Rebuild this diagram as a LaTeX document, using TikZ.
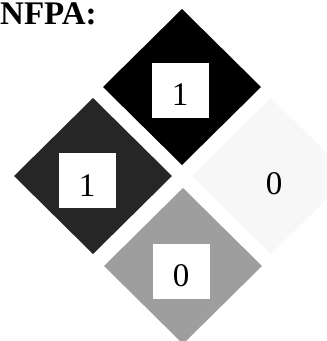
\documentclass[tikz,border=0pt]{standalone}
\usepackage{fontspec}
\setmainfont{Liberation Serif}
\usetikzlibrary{shapes.geometric}
\begin{document}
\begin{tikzpicture}[x=1pt,y=-1pt,
  dia/.style={shape=diamond,draw=none,inner sep=0pt,outer sep=0pt,minimum width=158pt,minimum height=156pt},
  numbox/.style={fill=white,draw=none,inner sep=0pt,minimum width=57pt,minimum height=55pt,text height=31pt,text depth=0pt,font=\fontsize{33}{33}\selectfont},
  numtext/.style={inner sep=0pt,font=\fontsize{33}{33}\selectfont}]
\useasboundingbox (0,0) rectangle (327,341);
\node[anchor=north west,inner sep=0pt,font=\fontsize{33}{33}\selectfont\bfseries] (title) at (0,3) {NFPA:};
\node[dia,fill=black] (health0) at (182,87) {};
\node[dia,fill=black!85] (flam) at (93,176) {};
\node[dia,fill=black!3] (react) at (271,176) {};
\node[dia,fill=black!38] (spec) at (183,266) {};
\node[numbox] (topnum) at (180,90) {1};
\node[numbox] (leftnum) at (87,180.5) {1};
\node[numbox] (botnum) at (181,271) {0};
\node[numtext] (rightnum) at (274,183.5) {0};
\end{tikzpicture}
\end{document}
